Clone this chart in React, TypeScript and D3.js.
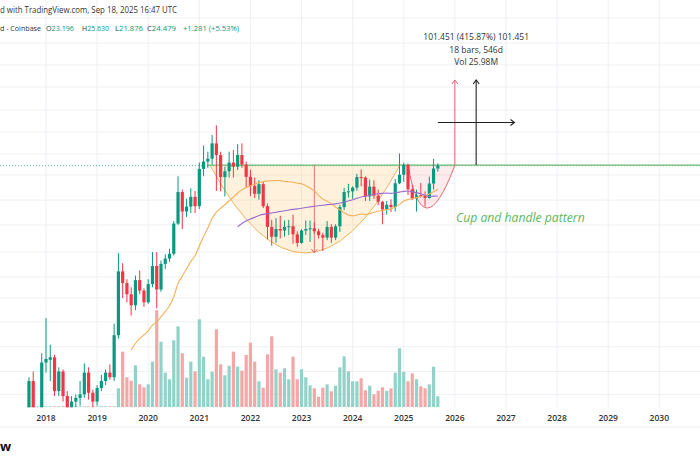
import React from "react";
import * as d3 from "d3";

// monthly bars, index 0 = Jan 2018
const firstIndex = -4; // Sep 2017
const open = [
  0.20, 0.40, 0.19, 0.21,
  0.57, 0.60, 0.63, 0.33, 0.48, 0.30, 0.23, 0.27, 0.29, 0.31, 0.47, 0.32,
  0.27, 0.35, 0.40, 0.47, 0.43, 0.96, 3.25, 2.60, 2.10, 1.70, 2.75, 2.25,
  1.80, 2.55, 3.60, 2.30, 3.75, 4.15, 4.55, 8.10, 14.8, 10.2, 11.2, 13.5,
  11.3, 23.0, 26.5, 28.0, 37.5, 30.0, 19.7, 22.0, 26.0, 24.0, 30.0, 25.0,
  19.8, 16.6, 14.3, 17.2, 11.3, 7.60, 6.30, 7.30, 7.10, 7.60, 7.70, 6.60,
  5.60, 7.10, 7.30, 7.40, 7.00, 6.50, 6.20, 7.60, 6.20, 7.70, 11.1, 14.8,
  15.0, 16.1, 19.7, 19.5, 13.6, 16.4, 13.8, 12.3, 10.6, 11.6, 11.1, 17.5,
  20.6, 24.9, 15.6, 13.1, 13.9, 13.8, 13.2, 17.4, 23.196,
];
const high = [
  0.43, 0.48, 0.24, 0.68,
  1.33, 0.80, 0.66, 0.52, 0.50, 0.33, 0.30, 0.31, 0.40, 0.56, 0.52, 0.34,
  0.37, 0.45, 0.50, 0.55, 1.20, 4.60, 3.80, 2.80, 2.40, 3.00, 3.30, 2.35,
  2.80, 4.70, 4.70, 4.00, 4.50, 5.00, 8.50, 20.0, 15.5, 13.0, 15.9, 15.1,
  26.0, 36.0, 32.0, 44.0, 52.9, 32.0, 24.0, 32.0, 33.0, 37.0, 37.5, 26.5,
  22.7, 19.5, 18.6, 18.0, 11.9, 8.70, 9.00, 9.40, 8.60, 8.70, 9.60, 7.00,
  7.30, 8.60, 8.60, 8.30, 7.30, 6.80, 8.50, 8.00, 8.00, 11.6, 16.0, 17.3,
  16.5, 21.0, 22.8, 20.0, 18.8, 18.5, 15.5, 12.5, 12.5, 12.9, 19.0, 30.9,
  26.0, 25.5, 17.0, 15.5, 17.6, 15.0, 19.9, 27.8, 25.630,
];
const low = [
  0.17, 0.13, 0.15, 0.20,
  0.47, 0.40, 0.30, 0.30, 0.27, 0.21, 0.21, 0.22, 0.25, 0.29, 0.28, 0.21,
  0.25, 0.33, 0.37, 0.41, 0.40, 0.90, 1.95, 1.80, 1.40, 1.55, 2.10, 1.65,
  1.75, 2.40, 1.60, 2.20, 3.40, 3.90, 4.40, 7.90, 7.30, 9.20, 9.90, 9.90,
  10.7, 20.0, 23.5, 25.0, 15.1, 15.0, 13.6, 19.5, 19.5, 22.5, 23.5, 16.0,
  13.7, 13.2, 12.8, 10.9, 6.00, 5.30, 5.60, 6.10, 6.30, 6.50, 5.50, 5.20,
  5.50, 6.50, 5.70, 6.70, 6.10, 4.80, 5.90, 5.60, 5.90, 6.90, 10.5, 13.3,
  13.0, 15.2, 16.5, 12.5, 12.5, 13.0, 11.5, 8.00, 9.60, 10.1, 10.2, 17.2,
  17.9, 14.0, 12.7, 10.2, 13.3, 11.2, 13.0, 15.5, 21.876,
];
const close = [
  0.40, 0.19, 0.21, 0.57,
  0.61, 0.63, 0.33, 0.48, 0.30, 0.23, 0.27, 0.29, 0.31, 0.47, 0.32, 0.27,
  0.35, 0.40, 0.47, 0.43, 0.96, 3.25, 2.60, 2.10, 1.70, 2.75, 2.25, 1.80,
  2.55, 3.60, 2.30, 3.75, 4.15, 4.55, 8.10, 14.8, 10.2, 11.2, 13.5, 11.3,
  23.0, 26.5, 28.0, 37.5, 30.0, 19.7, 22.0, 26.0, 24.0, 30.0, 25.0, 19.8,
  16.6, 14.3, 17.2, 11.3, 7.60, 6.30, 7.30, 7.10, 7.60, 7.70, 6.60, 5.60,
  7.10, 7.30, 7.40, 7.00, 6.50, 6.20, 7.60, 6.20, 7.70, 11.1, 14.8, 15.0,
  16.1, 19.7, 19.5, 13.6, 16.4, 13.8, 12.3, 10.6, 11.6, 11.1, 17.5, 20.6,
  24.9, 15.6, 13.1, 13.9, 13.8, 13.2, 17.4, 23.2, 24.479,
];
// volume, millions (Coinbase listing mid 2019, almost nothing before)
const volume = [
  1, 1, 1, 1,
  1, 1, 1, 1, 1, 1, 1, 1, 1, 1, 1, 1,
  1, 1, 1, 1, 1, 19, 55.6, 30, 26.6, 42, 23, 20,
  23, 45.6, 97, 65.6, 34.6, 28, 67, 81, 54, 29.6, 45.6, 36,
  88, 50.6, 28, 35.6, 78, 43, 32, 41.6, 55.6, 40.6, 36.6, 52.3,
  64.6, 45.6, 26, 19.6, 53, 71, 38, 34.6, 39, 28, 50.6, 28,
  38, 30, 22, 19, 10.6, 19.6, 23, 16, 21.6, 40, 51, 36,
  26, 26, 29, 17, 21.6, 13, 16.6, 20, 16.6, 19, 34.6, 59,
  35.6, 26, 34, 28, 21, 19, 23, 40.6, 11,
];

const years = [2018, 2019, 2020, 2021, 2022, 2023, 2024, 2025, 2026, 2027, 2028, 2029, 2030];
const gridPrices = [0.31, 0.48, 0.77, 1.24, 1.96, 2.92, 4.7, 7.9, 12.7, 20.5, 30.6, 46.6, 71, 110, 168, 255, 411];

// drawings
const neckPrice = 24.75;
const cup = { start: 38.5, end: 83.1, bottom: 4.62, arrowAt: 63 };
const handle = { start: 85, end: 96, bottom: 10.9, vertex: 89.5 };
const target = 125.85;
const measureFrom = 92;
const measureBars = 18;
const measureTextLines = ["101.451 (415.87%) 101.451", "18 bars, 546d", "Vol 25.98M"];
// legend: label, value, left x, text length
const ohlc = [
  ["O", "23.196", 46, 28],
  ["H", "25.630", 82, 27],
  ["L", "21.876", 115, 28],
  ["C", "24.479", 147, 29],
];

const UP = "#089981";
const DOWN = "#f23645";
const font = "'Open Sans', 'DejaVu Sans', sans-serif";

function sma(values: number[], n: number) {
  return values.map((v, i) => (i < n - 1 ? null : (d3.mean(values.slice(i - n + 1, i + 1)) as number)));
}

export default function App() {
  const x = d3.scaleLinear().domain([0, 144]).range([46, 659.3]);
  const y = d3.scaleLog().domain([24.479, target]).range([165.7, 80]);
  const yVol = d3.scaleLinear().domain([0, 100]).range([407.3, 307.3]);
  const paneBottom = 407.3;
  const bw = 3.2;

  const bars = close.map((c, i) => ({
    i: firstIndex + i,
    o: open[i],
    h: high[i],
    l: low[i],
    c,
    v: volume[i],
    up: c >= open[i],
  }));

  const ma25 = sma(close, 25);
  const ma50 = sma(close, 50);
  const maLine = d3
    .line<number | null>()
    .defined((d) => d != null)
    .x((d, i) => x(firstIndex + i))
    .y((d) => y(d as number))
    .curve(d3.curveMonotoneX);

  // cup & handle as quadratic arcs hanging from the neckline
  const yNeck = y(neckPrice);
  const arcPath = (x0: number, x1: number, xv: number, yb: number) => {
    const p = d3.path();
    const cx = 2 * xv - (x0 + x1) / 2;
    const cy = 2 * yb - yNeck;
    p.moveTo(x0, yNeck);
    p.quadraticCurveTo(cx, cy, x1, yNeck);
    return p.toString();
  };
  const cupD = arcPath(x(cup.start), x(cup.end), (x(cup.start) + x(cup.end)) / 2, y(cup.bottom));
  const handleD = arcPath(x(handle.start), x(handle.end), x(handle.vertex), y(handle.bottom));

  const xRed = x(handle.end);
  const xMid = x(measureFrom + measureBars / 2);
  const xEnd = x(measureFrom + measureBars);
  const yTop = y(target);
  const yHoriz = y(55.9);
  const xCupArrow = x(cup.arrowAt);
  const yCupBottom = y(cup.bottom);
  const lastClose = close[close.length - 1];

  return (
    <svg width={700} height={467} style={{ position: "absolute", left: 0, top: 0, background: "#fff" }}>
      <defs>
        <clipPath id="pane">
          <rect x={0} y={0} width={700} height={paneBottom} />
        </clipPath>
      </defs>
      <rect width={700} height={467} fill="#fff" />

      {/* grid */}
      {gridPrices.map((p) => (
        <line key={p} x1={0} x2={700} y1={y(p)} y2={y(p)} stroke="#eef0f4" />
      ))}
      {years.map((yr, k) => (
        <line key={yr} x1={x(k * 12)} x2={x(k * 12)} y1={0} y2={paneBottom} stroke="#eef0f4" />
      ))}
      <line x1={0} x2={700} y1={427} y2={427} stroke="#eef0f4" />

      <g clipPath="url(#pane)">
        {/* volume */}
        {bars.map((b) => (
          <rect
            key={"v" + b.i}
            x={x(b.i) - bw / 2}
            width={bw}
            y={yVol(b.v)}
            height={paneBottom - yVol(b.v)}
            fill={b.up ? "#92d3c9" : "#f4a7a6"}
          />
        ))}

        {/* cup */}
        <path d={cupD + "Z"} fill="rgba(255,183,77,0.2)" stroke="none" />
        <path d={cupD} fill="none" stroke="#f0b45c" strokeWidth={1} />
        {/* handle */}
        <path d={handleD + "Z"} fill="rgba(242,54,69,0.1)" stroke="none" />
        <path d={handleD} fill="none" stroke="#e06a70" strokeWidth={1} />

        {/* price line + neckline */}
        <line x1={0} x2={700} y1={y(lastClose)} y2={y(lastClose)} stroke={UP} strokeDasharray="1 2" opacity={0.7} />
        <line x1={x(38)} x2={700} y1={yNeck} y2={yNeck} stroke="#6bbb6f" strokeWidth={1.2} />

        {/* cup depth arrow */}
        <line x1={xCupArrow} x2={xCupArrow} y1={yNeck} y2={yCupBottom} stroke="#e57373" />
        <path
          d={`M${xCupArrow - 3},${yCupBottom - 4}L${xCupArrow},${yCupBottom}L${xCupArrow + 3},${yCupBottom - 4}`}
          fill="none"
          stroke="#e57373"
        />

        {/* candles */}
        {bars.map((b) => {
          const col = b.up ? UP : DOWN;
          const top = y(Math.max(b.o, b.c));
          const bot = y(Math.min(b.o, b.c));
          return (
            <g key={"c" + b.i}>
              <line x1={x(b.i)} x2={x(b.i)} y1={y(b.h)} y2={y(b.l)} stroke={col} strokeWidth={1} />
              <rect x={x(b.i) - bw / 2} width={bw} y={top} height={Math.max(1, bot - top)} fill={col} />
            </g>
          );
        })}

        {/* moving averages */}
        <path d={maLine(ma25) || ""} fill="none" stroke="#f2b05a" strokeWidth={1.1} />
        <path d={maLine(ma50) || ""} fill="none" stroke="#9c6bd0" strokeWidth={1.1} />

        {/* projection arrows */}
        <line x1={xRed} x2={xRed} y1={yNeck} y2={yTop} stroke="#e06a70" />
        <path d={`M${xRed - 3},${yTop + 4}L${xRed},${yTop}L${xRed + 3},${yTop + 4}`} fill="none" stroke="#e06a70" />
        <line x1={xMid} x2={xMid} y1={yNeck} y2={yTop} stroke="#222" strokeWidth={1.1} />
        <path d={`M${xMid - 3},${yTop + 4}L${xMid},${yTop}L${xMid + 3},${yTop + 4}`} fill="none" stroke="#222" strokeWidth={1.1} />
        <line x1={x(measureFrom)} x2={xEnd} y1={yHoriz} y2={yHoriz} stroke="#222" strokeWidth={1.1} />
        <path d={`M${xEnd - 4},${yHoriz - 3}L${xEnd},${yHoriz}L${xEnd - 4},${yHoriz + 3}`} fill="none" stroke="#222" strokeWidth={1.1} />
      </g>

      {measureTextLines.map((t, k) => (
        <text key={t} x={xMid} y={yTop - 40 + k * 12.5} textAnchor="middle" fontFamily={font} fontSize={8.5} fill="#333">
          {t}
        </text>
      ))}

      <text x={456} y={222} fontFamily={font} fontSize={12.2} fontStyle="italic" fill="#5cb85c">
        Cup and handle pattern
      </text>

      {/* time axis */}
      {years.map((yr, k) => (
        <text key={yr} x={x(k * 12)} y={421} textAnchor="middle" fontFamily={font} fontSize={8.5} fontWeight={600} fill="#333">
          {yr}
        </text>
      ))}

      {/* header */}
      <text x={0} y={13} fontFamily={font} fontSize={8.3} fill="#333" textLength={177} lengthAdjust="spacingAndGlyphs">
        d with TradingView.com, Sep 18, 2025 16:47 UTC
      </text>
      <text x={0} y={31} fontFamily={font} fontSize={8} fill="#333" textLength={41} lengthAdjust="spacingAndGlyphs">
        d - Coinbase
      </text>
      {ohlc.map(([k, v, px, len]) => (
        <text
          key={k as string}
          x={px as number}
          y={31}
          fontFamily={font}
          fontSize={8}
          fill="#333"
          textLength={len as number}
          lengthAdjust="spacingAndGlyphs"
        >
          {k}
          <tspan fill={UP}>{v}</tspan>
        </text>
      ))}
      <text x={183} y={31} fontFamily={font} fontSize={8} fill={UP} textLength={56} lengthAdjust="spacingAndGlyphs">
        +1.281 (+5.53%)
      </text>

      <text x={0} y={451} fontFamily={font} fontSize={13} fontWeight={700} fill="#111">
        w
      </text>
    </svg>
  );
}
